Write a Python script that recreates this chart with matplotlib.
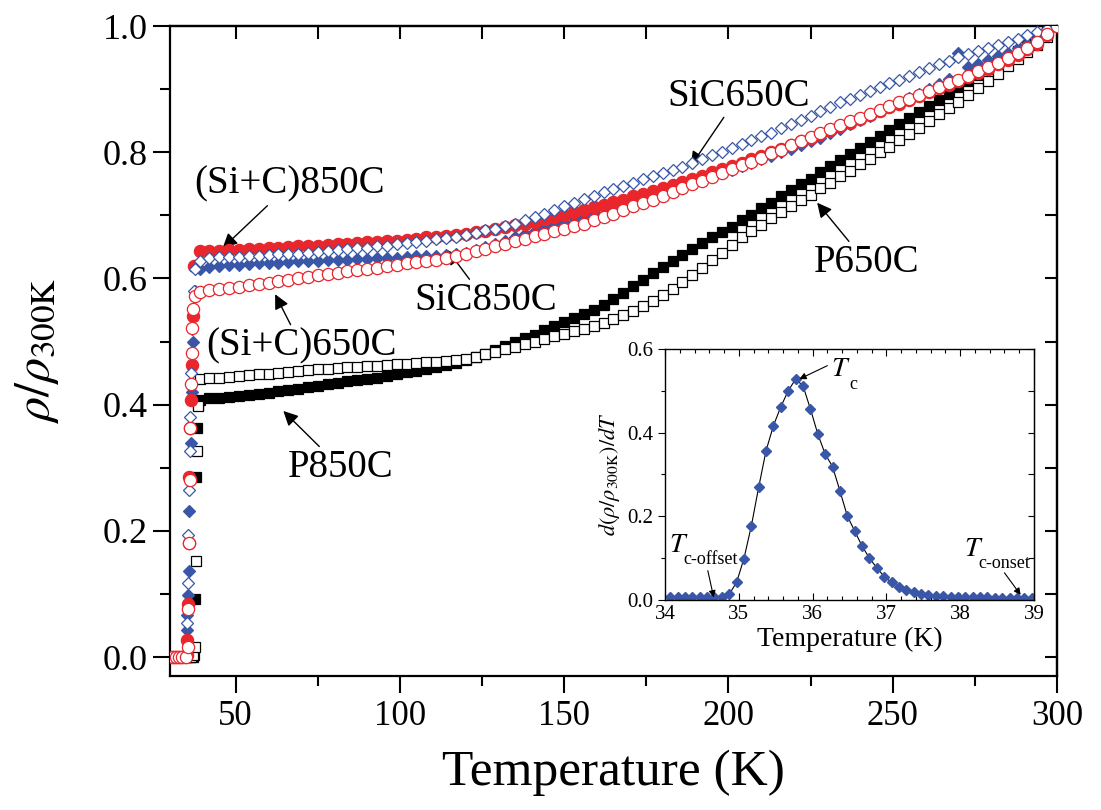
import matplotlib.pyplot as plt
from matplotlib.ticker import MultipleLocator, NullFormatter

plt.rcParams['font.family'] = ['Liberation Serif', 'DejaVu Serif']
plt.rcParams['mathtext.fontset'] = 'stix'

# temperature grid of the main curves (K)
temps = list(range(39, 301, 3))

# normal-state resistivity, rho / rho(300 K)
sic_c850 = [0.643, 0.643, 0.644, 0.645, 0.645, 0.646, 0.647, 0.648, 0.649, 0.650, 0.651,
            0.651, 0.652, 0.653, 0.654, 0.655, 0.656, 0.657, 0.658, 0.659, 0.660, 0.661,
            0.663, 0.665, 0.666, 0.668, 0.669, 0.671, 0.673, 0.675, 0.678, 0.681, 0.684,
            0.687, 0.690, 0.694, 0.697, 0.701, 0.705, 0.709, 0.713, 0.717, 0.721, 0.725,
            0.730, 0.734, 0.739, 0.743, 0.748, 0.753, 0.758, 0.763, 0.768, 0.773, 0.778,
            0.783, 0.789, 0.794, 0.800, 0.805, 0.811, 0.817, 0.823, 0.829, 0.835, 0.841,
            0.847, 0.853, 0.859, 0.865, 0.871, 0.877, 0.883, 0.889, 0.895, 0.901, 0.907,
            0.913, 0.919, 0.926, 0.932, 0.939, 0.946, 0.954, 0.963, 0.972, 0.986, 1.000]
sic_c650 = [0.578, 0.582, 0.584, 0.585, 0.587, 0.589, 0.591, 0.593, 0.596, 0.598, 0.600,
            0.603, 0.605, 0.607, 0.609, 0.611, 0.613, 0.615, 0.617, 0.619, 0.621, 0.624,
            0.626, 0.628, 0.630, 0.633, 0.636, 0.639, 0.643, 0.647, 0.651, 0.655, 0.659,
            0.663, 0.667, 0.671, 0.675, 0.679, 0.683, 0.687, 0.692, 0.697, 0.702, 0.708,
            0.714, 0.719, 0.725, 0.731, 0.737, 0.743, 0.749, 0.755, 0.761, 0.767, 0.773,
            0.779, 0.785, 0.791, 0.798, 0.804, 0.811, 0.817, 0.824, 0.830, 0.837, 0.843,
            0.849, 0.855, 0.861, 0.867, 0.873, 0.879, 0.885, 0.891, 0.897, 0.903, 0.909,
            0.915, 0.921, 0.928, 0.935, 0.942, 0.949, 0.957, 0.965, 0.975, 0.987, 1.000]
sic650 = [0.628, 0.633, 0.634, 0.634, 0.634, 0.635, 0.636, 0.637, 0.638, 0.638, 0.639,
          0.641, 0.642, 0.643, 0.645, 0.646, 0.648, 0.649, 0.651, 0.652, 0.654, 0.656,
          0.658, 0.660, 0.662, 0.664, 0.666, 0.669, 0.672, 0.676, 0.679, 0.683, 0.687,
          0.692, 0.697, 0.702, 0.708, 0.714, 0.720, 0.726, 0.731, 0.737, 0.742, 0.747,
          0.752, 0.757, 0.762, 0.767, 0.772, 0.777, 0.783, 0.789, 0.795, 0.801, 0.807,
          0.813, 0.819, 0.825, 0.831, 0.838, 0.844, 0.851, 0.858, 0.865, 0.872, 0.879,
          0.885, 0.891, 0.897, 0.903, 0.909, 0.915, 0.921, 0.927, 0.933, 0.939, 0.945,
          0.951, 0.955, 0.960, 0.965, 0.970, 0.975, 0.980, 0.985, 0.990, 0.995, 1.000]
sic850 = [0.615, 0.618, 0.620, 0.621, 0.622, 0.623, 0.624, 0.625, 0.625, 0.626, 0.627,
          0.627, 0.628, 0.629, 0.629, 0.630, 0.631, 0.631, 0.632, 0.632, 0.633, 0.634,
          0.635, 0.636, 0.636, 0.637, 0.638, 0.641, 0.645, 0.650, 0.655, 0.660, 0.665,
          0.670, 0.675, 0.680, 0.685, 0.690, 0.695, 0.700, 0.705, 0.711, 0.716, 0.721,
          0.725, 0.730, 0.734, 0.739, 0.743, 0.748, 0.752, 0.757, 0.762, 0.767, 0.772,
          0.778, 0.783, 0.789, 0.794, 0.800, 0.805, 0.811, 0.817, 0.823, 0.830, 0.837,
          0.844, 0.851, 0.858, 0.865, 0.872, 0.879, 0.886, 0.893, 0.900, 0.908, 0.916,
          0.957, 0.935, 0.940, 0.946, 0.952, 0.958, 0.965, 0.972, 0.980, 0.988, 1.000]
p850 = [0.408, 0.410, 0.411, 0.412, 0.413, 0.415, 0.417, 0.419, 0.421, 0.423, 0.425,
        0.428, 0.430, 0.432, 0.434, 0.437, 0.439, 0.441, 0.443, 0.446, 0.448, 0.451,
        0.454, 0.457, 0.460, 0.463, 0.466, 0.470, 0.475, 0.481, 0.487, 0.493, 0.499,
        0.505, 0.511, 0.518, 0.524, 0.531, 0.537, 0.543, 0.550, 0.558, 0.567, 0.577,
        0.588, 0.598, 0.608, 0.618, 0.627, 0.637, 0.646, 0.656, 0.665, 0.674, 0.682,
        0.692, 0.701, 0.711, 0.720, 0.730, 0.740, 0.749, 0.758, 0.768, 0.778, 0.787,
        0.797, 0.806, 0.816, 0.826, 0.835, 0.845, 0.854, 0.864, 0.873, 0.883, 0.892,
        0.904, 0.913, 0.923, 0.932, 0.942, 0.951, 0.961, 0.971, 0.981, 0.990, 1.000]
p650 = [0.440, 0.442, 0.443, 0.444, 0.445, 0.447, 0.448, 0.449, 0.450, 0.452, 0.453,
        0.455, 0.456, 0.457, 0.458, 0.459, 0.460, 0.461, 0.462, 0.463, 0.464, 0.465,
        0.466, 0.467, 0.468, 0.469, 0.470, 0.473, 0.476, 0.480, 0.484, 0.488, 0.492,
        0.496, 0.500, 0.504, 0.508, 0.512, 0.516, 0.520, 0.525, 0.530, 0.536, 0.542,
        0.549, 0.556, 0.564, 0.573, 0.583, 0.594, 0.605, 0.617, 0.629, 0.641, 0.653,
        0.665, 0.675, 0.685, 0.695, 0.705, 0.715, 0.724, 0.733, 0.743, 0.752, 0.762,
        0.771, 0.781, 0.790, 0.800, 0.809, 0.819, 0.829, 0.839, 0.849, 0.860, 0.870,
        0.880, 0.891, 0.902, 0.913, 0.924, 0.936, 0.947, 0.959, 0.970, 0.982, 1.000]

# points through the superconducting transition
sic_c850_tt = [30.5, 31.5, 32.5, 33.5, 34.5, 35.1, 35.3, 35.5, 35.7, 35.9, 36.1, 36.3, 36.6, 37.0, 37.4]
sic_c850_tv = [0.0, 0.0, 0.0, 0.0, 0.0, 0.003, 0.027, 0.084, 0.181, 0.286, 0.363, 0.408, 0.463, 0.54, 0.62]
sic_c650_tt = [30.8, 31.8, 32.8, 33.8, 34.8, 35.4, 35.6, 35.8, 36.0, 36.2, 36.4, 36.6, 36.8, 37.0, 37.5]
sic_c650_tv = [0.0, 0.0, 0.0, 0.0, 0.0, 0.016, 0.076, 0.181, 0.281, 0.363, 0.432, 0.482, 0.522, 0.551, 0.572]
sic650_tt = [31.0, 32.0, 33.0, 34.0, 35.0, 35.2, 35.4, 35.6, 35.8, 36.0, 36.2, 36.5, 36.8, 37.2, 37.6]
sic650_tv = [0.0, 0.0, 0.0, 0.0, 0.0, 0.054, 0.117, 0.194, 0.265, 0.327, 0.381, 0.45, 0.52, 0.58, 0.615]
sic850_tt = [30.6, 31.6, 32.6, 33.6, 34.6, 35.1, 35.3, 35.5, 35.7, 35.9, 36.1, 36.3, 36.6, 37.0, 37.5]
sic850_tv = [0.0, 0.0, 0.0, 0.0, 0.0, 0.043, 0.067, 0.098, 0.137, 0.231, 0.286, 0.34, 0.42, 0.5, 0.58]
p850_tt = [32.0, 33.0, 34.0, 35.0, 36.0, 37.0, 37.3, 37.6, 38.0, 38.3, 38.6]
p850_tv = [0.0, 0.0, 0.0, 0.0, 0.0, 0.0, 0.004, 0.092, 0.286, 0.363, 0.40]
p650_tt = [32.3, 33.3, 34.3, 35.3, 36.3, 37.0, 37.5, 38.0, 38.3, 38.5]
p650_tv = [0.0, 0.0, 0.0, 0.0, 0.0, 0.003, 0.016, 0.152, 0.327, 0.398]

# inset: derivative around Tc
dT_temps = [34.07 + 0.1 * i for i in range(50)]
dT_vals = [0.006, 0.006, 0.006, 0.006, 0.006, 0.006, 0.006, 0.006, 0.014, 0.042,
           0.099, 0.177, 0.270, 0.357, 0.417, 0.462, 0.500, 0.528, 0.512, 0.457,
           0.397, 0.349, 0.319, 0.261, 0.201, 0.165, 0.129, 0.100, 0.077, 0.056,
           0.042, 0.032, 0.024, 0.018, 0.015, 0.013, 0.010, 0.009, 0.008, 0.007,
           0.007, 0.006, 0.006, 0.006, 0.005, 0.005, 0.005, 0.004, 0.004, 0.004]

red = '#e8262b'
blue = '#3a57a7'

fig = plt.figure(figsize=(11.01, 8.10), dpi=100)
ax = fig.add_axes([0.1544, 0.1654, 0.8056, 0.8025])

def series(t, v, tt, tv, color, marker, ms, filled, z):
    face = color if filled else 'white'
    ax.plot(list(tt) + list(t), list(tv) + list(v), linestyle='none', marker=marker,
            ms=ms, mfc=face, mec=color, mew=0.9, zorder=z)

series(temps, p850, p850_tt, p850_tv, 'black', 's', 7.4, True, 2)
series(temps, p650, p650_tt, p650_tv, 'black', 's', 7.4, False, 3)
series(temps, sic850, sic850_tt, sic850_tv, blue, 'D', 6.3, True, 4)
series(temps, sic_c850, sic_c850_tt, sic_c850_tv, red, 'o', 8.8, True, 5)
series(temps, sic650, sic650_tt, sic650_tv, blue, 'D', 6.3, False, 6)
series(temps, sic_c650, sic_c650_tt, sic_c650_tv, red, 'o', 8.8, False, 7)

ax.set_xlim(30, 300)
ax.set_ylim(-0.03, 1.0)
ax.xaxis.set_major_locator(MultipleLocator(50))
ax.xaxis.set_minor_locator(MultipleLocator(25))
ax.yaxis.set_major_locator(MultipleLocator(0.2))
ax.yaxis.set_minor_locator(MultipleLocator(0.1))
ax.yaxis.set_major_formatter(plt.FuncFormatter(lambda v, p: f'{v:.1f}'))
for s in ax.spines.values():
    s.set_linewidth(1.6)
ax.tick_params(which='both', direction='out', width=1.5, top=False, right=False)
ax.tick_params(which='major', length=12)
ax.tick_params(which='minor', length=7)
ax.tick_params(axis='x', labelsize=25, pad=5)
ax.tick_params(axis='y', labelsize=26, pad=4)

# inward ticks along the top and right edges
top = ax.secondary_xaxis('top')
top.xaxis.set_major_locator(MultipleLocator(25))
top.xaxis.set_major_formatter(NullFormatter())
top.tick_params(direction='in', length=9, width=1.5)
right = ax.secondary_yaxis('right')
right.yaxis.set_major_locator(MultipleLocator(0.1))
right.yaxis.set_major_formatter(NullFormatter())
right.tick_params(direction='in', length=9, width=1.5)
for sec in (top, right):
    for s in sec.spines.values():
        s.set_linewidth(1.6)

ax.set_xlabel('Temperature (K)', fontsize=37, labelpad=12)
ax.set_ylabel(r'$\rho/\rho_{\rm 300K}$', fontsize=36, labelpad=30)

arrow = dict(arrowstyle='-|>', color='black', lw=1.0, mutation_scale=22, shrinkA=0, shrinkB=0)
labels = [
    ('(Si+C)850C', (46, 0.648), (66.5, 0.749)),
    ('SiC650C', (188.5, 0.778), (203, 0.889)),
    ('SiC850C', (114.5, 0.645), (126, 0.565)),
    ('(Si+C)650C', (62, 0.575), (70, 0.493)),
    ('P850C', (64.5, 0.39), (82, 0.30)),
    ('P650C', (227, 0.72), (242, 0.625)),
]
for text, tip, pos in labels:
    ax.annotate(text, xy=tip, xytext=pos, fontsize=28, ha='center', va='center',
                arrowprops=arrow)

ins = fig.add_axes([0.604, 0.2593, 0.3351, 0.3099])
ins.plot(dT_temps, dT_vals, color='black', lw=0.8, marker='D', ms=5.2,
         mfc=blue, mec=blue)
ins.set_xlim(34, 39)
ins.set_ylim(0, 0.6)
ins.xaxis.set_major_locator(MultipleLocator(1))
ins.xaxis.set_minor_locator(MultipleLocator(0.2))
ins.yaxis.set_major_locator(MultipleLocator(0.2))
ins.yaxis.set_minor_locator(MultipleLocator(0.1))
ins.yaxis.set_major_formatter(plt.FuncFormatter(lambda v, p: f'{v:.1f}'))
for s in ins.spines.values():
    s.set_linewidth(1.0)
ins.tick_params(axis='x', which='both', direction='in', top=True, width=0.8)
ins.tick_params(axis='y', which='both', direction='out', right=False, width=0.8)
ins.tick_params(which='major', length=5, labelsize=15)
ins.tick_params(which='minor', length=3)
ins_right = ins.secondary_yaxis('right')
ins_right.yaxis.set_major_locator(MultipleLocator(0.1))
ins_right.yaxis.set_major_formatter(NullFormatter())
ins_right.tick_params(direction='in', length=4, width=0.8)
ins.set_xlabel('Temperature (K)', fontsize=20, labelpad=2)
ins.set_ylabel(r'$d(\rho/\rho_{\rm 300K})/dT$', fontsize=16, labelpad=4)

small = dict(arrowstyle='-|>', color='black', lw=0.8, mutation_scale=10, shrinkA=0, shrinkB=0)
ins.annotate('', xy=(35.82, 0.528), xytext=(36.2, 0.56), arrowprops=small)
ins.text(36.25, 0.55, r'$T$', fontsize=20, va='center')
ins.text(36.5, 0.515, 'c', fontsize=13, va='center')
ins.text(34.05, 0.13, r'$T$', fontsize=20, va='center')
ins.text(34.25, 0.097, 'c-offset', fontsize=13, va='center')
ins.annotate('', xy=(34.66, 0.006), xytext=(34.58, 0.07), arrowprops=small)
ins.text(38.05, 0.12, r'$T$', fontsize=20, va='center')
ins.text(38.25, 0.088, 'c-onset', fontsize=13, va='center')
ins.annotate('', xy=(38.82, 0.012), xytext=(38.6, 0.065), arrowprops=small)

fig.savefig('out.png', dpi=100)
